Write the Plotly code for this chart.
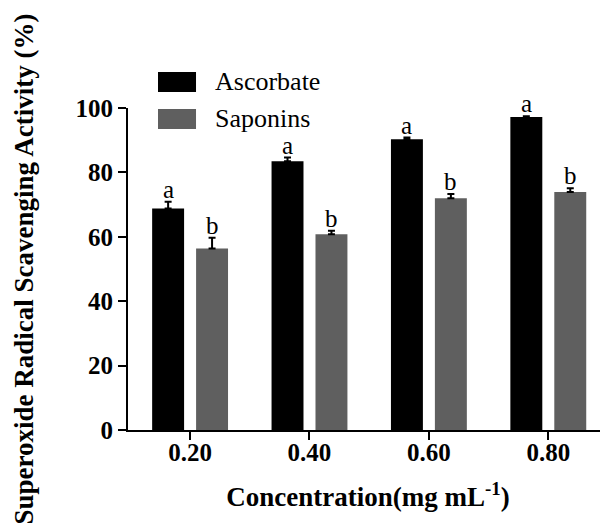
import plotly.graph_objects as go

categories = ["0.20", "0.40", "0.60", "0.80"]
ascorbate = [68.8, 83.5, 90.3, 97.2]
ascorbate_err = [2.1, 1.1, 0.5, 0.2]
saponins = [56.4, 60.8, 72.0, 73.9]
saponins_err = [3.3, 1.1, 1.3, 1.2]
ascorbate_letters = ["a", "a", "a", "a"]
saponins_letters = ["b", "b", "b", "b"]

FONT = "Liberation Serif"
BLACK = "#000000"
GRAY = "#5f5f5f"

fig = go.Figure()
fig.add_trace(go.Bar(
    name="Ascorbate", x=categories, y=ascorbate, marker=dict(color=BLACK, line=dict(width=0)),
    error_y=dict(type="data", array=ascorbate_err, arrayminus=[0]*4, color="black", thickness=2, width=3.5),
    showlegend=False))
fig.add_trace(go.Bar(
    name="Saponins", x=categories, y=saponins, marker=dict(color=GRAY, line=dict(width=0)),
    error_y=dict(type="data", array=saponins_err, arrayminus=[0]*4, color="black", thickness=2, width=3.5),
    showlegend=False))

annotations = []
for i, c in enumerate(categories):
    annotations.append(dict(x=i, y=ascorbate[i] + ascorbate_err[i], xref="x", yref="y",
                            text=ascorbate_letters[i], showarrow=False, xshift=-22, yanchor="bottom",
                            yshift=-3, font=dict(family=FONT, size=25, color="black")))
    annotations.append(dict(x=i, y=saponins[i] + saponins_err[i], xref="x", yref="y",
                            text=saponins_letters[i], showarrow=False, xshift=22, yanchor="bottom",
                            yshift=-3, font=dict(family=FONT, size=25, color="black")))

# custom legend
legend_items = [("Ascorbate", BLACK, 1.081), ("Saponins", GRAY, 0.966)]
shapes = []
for name, col, yc in legend_items:
    shapes.append(dict(type="rect", xref="paper", yref="paper", x0=0.0625, x1=0.1417,
                       y0=yc - 0.031, y1=yc + 0.031, fillcolor=col, line=dict(width=0)))
    annotations.append(dict(x=0.177, y=yc, xref="paper", yref="paper", text=name, showarrow=False,
                            xanchor="left", yanchor="middle", font=dict(family=FONT, size=26, color="black")))

fig.update_layout(
    width=600, height=520,
    margin=dict(l=120, r=0, t=100, b=98),
    plot_bgcolor="white", paper_bgcolor="white",
    barmode="group", bargap=0.264, bargroupgap=0.273,
    font=dict(family=FONT, color="black"),
    shapes=shapes, annotations=annotations,
    xaxis=dict(type="category", range=[-0.52, 3.5], showline=True, linecolor="black", linewidth=2,
               ticks="outside", ticklen=8, tickwidth=2, tickcolor="black", showgrid=False, automargin=False,
               ticklabelstandoff=-9,
               tickfont=dict(family=FONT, size=25, color="black", weight="bold"),
               title=dict(text="Concentration(mg mL<sup>-1</sup>)", standoff=22,
                          font=dict(family=FONT, size=27, color="black", weight="bold"))),
    yaxis=dict(range=[0, 100], dtick=20, showline=True, linecolor="black", linewidth=2,
               ticks="outside", ticklen=8, tickwidth=2, tickcolor="black", showgrid=False, zeroline=False,
               automargin=False,
               tickfont=dict(family=FONT, size=25, color="black", weight="bold"),
               title=dict(text="Superoxide Radical Scavenging Activity (%)", standoff=34,
                          font=dict(family=FONT, size=27, color="black", weight="bold"))),
)

fig.write_html("out.html")
